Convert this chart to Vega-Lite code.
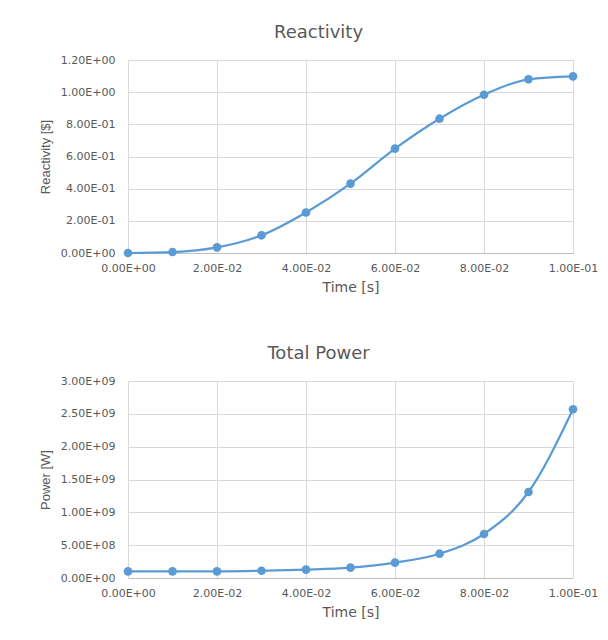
{
  "$schema": "https://vega.github.io/schema/vega-lite/v6.json",
  "padding": {"left": 39, "top": 24, "right": 5, "bottom": 5},
  "background": "white",
  "datasets": {
    "sim": [
      {"t": 0.00, "reactivity": 0.000, "power": 1.00e8},
      {"t": 0.01, "reactivity": 0.006, "power": 1.00e8},
      {"t": 0.02, "reactivity": 0.035, "power": 1.01e8},
      {"t": 0.03, "reactivity": 0.110, "power": 1.10e8},
      {"t": 0.04, "reactivity": 0.252, "power": 1.27e8},
      {"t": 0.05, "reactivity": 0.431, "power": 1.58e8},
      {"t": 0.06, "reactivity": 0.649, "power": 2.34e8},
      {"t": 0.07, "reactivity": 0.835, "power": 3.70e8},
      {"t": 0.08, "reactivity": 0.984, "power": 6.70e8},
      {"t": 0.09, "reactivity": 1.080, "power": 1.31e9},
      {"t": 0.10, "reactivity": 1.098, "power": 2.57e9}
    ]
  },
  "spacing": 51,
  "vconcat": [
    {
      "width": 445,
      "height": 193,
      "title": {"text": "Reactivity"},
      "data": {"name": "sim"},
      "encoding": {
        "x": {"field": "t", "type": "quantitative", "title": "Time [s]",
              "scale": {"domain": [0, 0.1], "nice": false},
              "axis": {"values": [0, 0.02, 0.04, 0.06, 0.08, 0.1]}},
        "y": {"field": "reactivity", "type": "quantitative", "title": "Reactivity [$]",
              "scale": {"domain": [0, 1.2], "nice": false},
              "axis": {"values": [0, 0.2, 0.4, 0.6, 0.8, 1.0, 1.2]}}
      },
      "layer": [
        {"mark": {"type": "line", "interpolate": "monotone", "color": "#5b9bd5", "strokeWidth": 2.25}},
        {"mark": {"type": "point", "filled": true, "opacity": 1, "color": "#5b9bd5", "size": 75}}
      ]
    },
    {
      "width": 445,
      "height": 197,
      "title": {"text": "Total Power"},
      "data": {"name": "sim"},
      "encoding": {
        "x": {"field": "t", "type": "quantitative", "title": "Time [s]",
              "scale": {"domain": [0, 0.1], "nice": false},
              "axis": {"values": [0, 0.02, 0.04, 0.06, 0.08, 0.1]}},
        "y": {"field": "power", "type": "quantitative", "title": "Power [W]",
              "scale": {"domain": [0, 3e9], "nice": false},
              "axis": {"values": [0, 5e8, 1e9, 1.5e9, 2e9, 2.5e9, 3e9]}}
      },
      "layer": [
        {"mark": {"type": "line", "interpolate": "monotone", "color": "#5b9bd5", "strokeWidth": 2.25}},
        {"mark": {"type": "point", "filled": true, "opacity": 1, "color": "#5b9bd5", "size": 75}}
      ]
    }
  ],
  "config": {
    "view": {"stroke": null},
    "title": {"font": "DejaVu Sans", "fontSize": 18, "fontWeight": "normal", "color": "#595959", "anchor": "middle", "frame": "bounds", "offset": 12},
    "axis": {
      "labelFont": "DejaVu Sans", "labelFontSize": 11, "labelColor": "#595959",
      "titleFont": "DejaVu Sans", "titleFontSize": 14, "titleFontWeight": "normal", "titleColor": "#595959",
      "gridColor": "#d9d9d9", "gridWidth": 1, "ticks": false,
      "labelExpr": "slice(format(datum.value,'.2e'),0,4) + 'E' + slice(format(datum.value,'.2e'),5,6) + '0' + slice(format(datum.value,'.2e'),6)"
    },
    "axisX": {"domainColor": "#bfbfbf", "labelPadding": 9, "titlePadding": 7, "labelFlush": false},
    "axisY": {"domain": false, "labelPadding": 13, "titlePadding": 8, "titleFont": "Liberation Sans", "titleFontSize": 13}
  }
}
